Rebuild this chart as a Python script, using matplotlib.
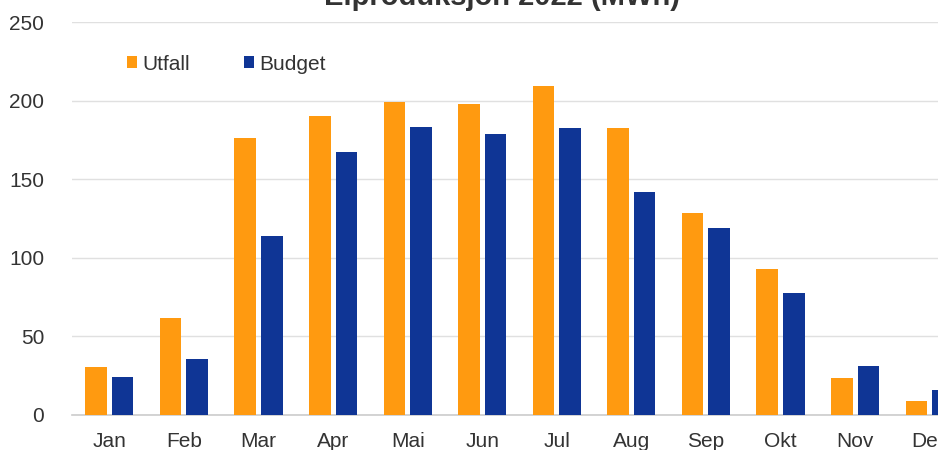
import numpy as np
import matplotlib
matplotlib.use('Agg')
import matplotlib.pyplot as plt

plt.rcParams['font.family'] = ['Liberation Sans', 'DejaVu Sans']

months = ['Jan', 'Feb', 'Mar', 'Apr', 'Mai', 'Jun', 'Jul', 'Aug', 'Sep', 'Okt', 'Nov', 'Dec']
utfall = [30.5, 62, 176, 190, 199, 198, 209, 182.5, 128.5, 93, 23.5, 9]
budget = [24, 35.5, 114, 167, 183, 179, 182.5, 142, 119, 77.5, 31, 16]

orange = '#FF9A10'
blue = '#0F3595'

fig = plt.figure(figsize=(9.38, 4.5), dpi=100)
ax = fig.add_axes([72/938, 1-415/450, 895/938, 393/450])

x = np.arange(len(months))
w = 0.29
ax.bar(x - 0.178, utfall, w, color=orange, label='Utfall', zorder=3)
ax.bar(x + 0.178, budget, w, color=blue, label='Budget', zorder=3)

ax.set_xlim(-0.5, len(months) - 0.5)
ax.set_ylim(0, 250)
ax.set_yticks(np.arange(0, 251, 50))
ax.set_xticks(x)
ax.set_xticklabels(months)
ax.yaxis.grid(True, color='#e0e0e0', lw=1.0, zorder=0)
for s in ['top', 'right', 'left']:
    ax.spines[s].set_visible(False)
ax.spines['bottom'].set_color('#cccccc')
ax.spines['bottom'].set_linewidth(1.2)
ax.tick_params(length=0, labelsize=15, colors='#333333')
ax.tick_params(axis='y', pad=20)
ax.tick_params(axis='x', pad=12)

ax.legend(loc='upper left', bbox_to_anchor=(0.04, 0.965), ncol=2, frameon=False,
          fontsize=15, handlelength=0.5, handleheight=0.5, handletextpad=0.25,
          columnspacing=2.6, labelcolor='#333333')

# title sits mostly above the top edge, like in the cropped original
fig.text(0.535, 1 - 5/450, 'Elproduksjon 2022 (MWh)', ha='center', va='baseline',
         fontsize=21, fontweight='bold', color='#333333')

fig.savefig('out.png', dpi=100)
